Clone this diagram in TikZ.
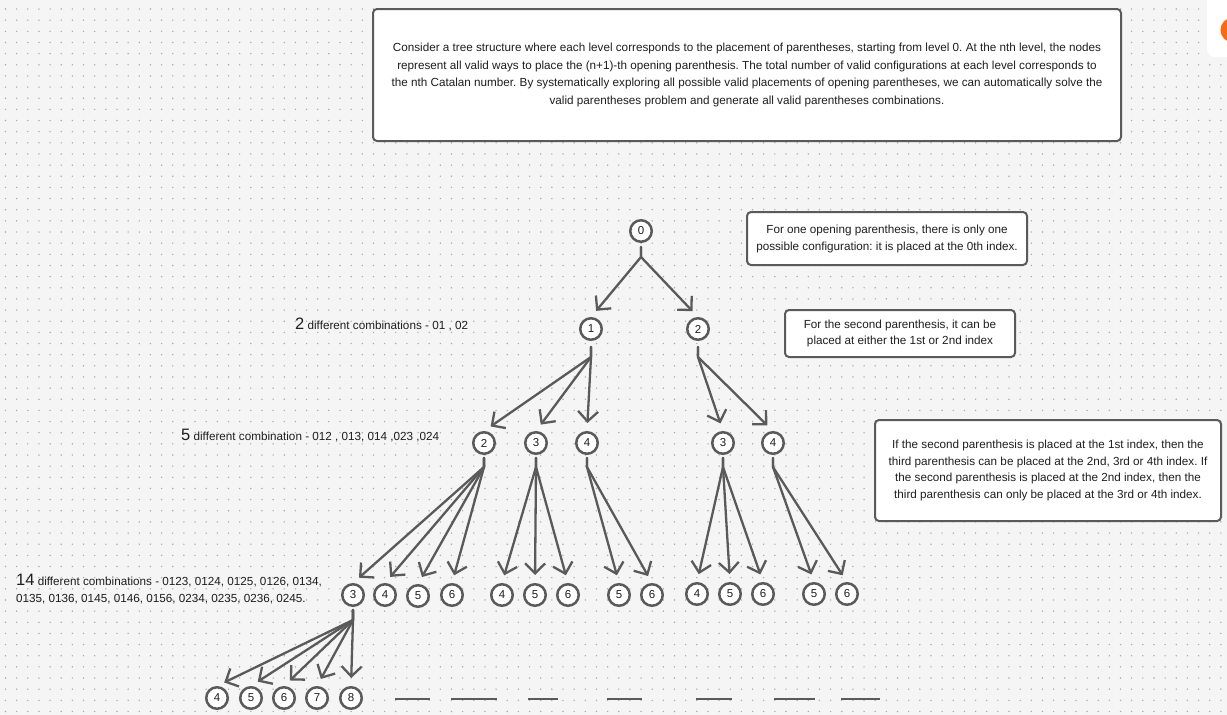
\documentclass[tikz,border=0pt]{standalone}
\usepackage{fontspec}
\setmainfont{Liberation Sans}
\frenchspacing
\usetikzlibrary{arrows.meta,shapes.geometric}
\definecolor{bg}{HTML}{F5F5F5}
\definecolor{ln}{HTML}{5A5A5A}
\definecolor{dotc}{HTML}{ACACAC}
\definecolor{txt}{HTML}{1E1E1E}
\definecolor{org}{HTML}{F76B15}
\begin{document}
\begin{tikzpicture}[x=1pt,y=-1pt,
  nd/.style={circle, draw=ln, line width=2.5pt, fill=white, minimum size=21.5pt, inner sep=0pt, font=\fontsize{11.5}{12}\selectfont, text=txt},
  arr/.style={draw=ln, line width=2.3pt, -{Straight Barb[length=10pt,width=20pt]}, shorten >=8pt, line cap=round, line join=round},
  box/.style={draw=ln, line width=2pt, rounded corners=4pt, fill=white, align=center, text=txt, inner sep=0pt},
  lab/.style={anchor=west, inner sep=0pt, text=txt, font=\fontsize{11.7}{17}\selectfont},
  dash line/.style={draw=ln, line width=2.3pt},
  dotrow/.style={draw=dotc, line width=1.6pt, line cap=round, dash pattern=on 0pt off 11.15pt},
]
\useasboundingbox (0,0) rectangle (1227,715);
\clip (0,0) rectangle (1227,715);
\fill[bg] (0,0) rectangle (1227,715);
\foreach \j in {0,...,64} {
  \draw[dotrow] (5.5, 9+11.15*\j) -- (1235, 9+11.15*\j);
}
% top-right panel
\fill[white, rounded corners=8pt] (1207,-12) rectangle (1245,57);
\fill[org] (1233,30) circle (12.5);

% text boxes
\node[box, minimum width=748pt, minimum height=132pt, font=\fontsize{11.7}{17.5}\selectfont] (intro) at (747,75)
 {Consider a tree structure where each level corresponds to the placement of parentheses, starting from level 0. At the nth level, the nodes\\
  represent all valid ways to place the (n+1)-th opening parenthesis. The total number of valid configurations at each level corresponds to\\
  the nth Catalan number. By systematically exploring all possible valid placements of opening parentheses, we can automatically solve the\\
  valid parentheses problem and generate all valid parentheses combinations.};
\node[box, minimum width=280pt, minimum height=53pt, font=\fontsize{11.7}{17}\selectfont] (note1) at (887,238.5)
 {For one opening parenthesis, there is only one\\possible configuration: it is placed at the 0th index.};
\node[box, minimum width=230pt, minimum height=47pt, font=\fontsize{11.7}{16.5}\selectfont] (note2) at (900,333.5)
 {For the second parenthesis, it can be\\placed at either the 1st or 2nd index};
\node[box, minimum width=346pt, minimum height=101pt, font=\fontsize{11.7}{16.5}\selectfont] (note3) at (1048,470.5)
 {If the second parenthesis is placed at the 1st index, then the\\
  third parenthesis can be placed at the 2nd, 3rd or 4th index. If\\
  the second parenthesis is placed at the 2nd index, then the\\
  third parenthesis can only be placed at the 3rd or 4th index.};

% level labels
\node[lab] (lab1) at (295,324) {{\fontsize{16.5}{16}\selectfont 2} different combinations - 01 , 02};
\node[lab] (lab2) at (181,436) {{\fontsize{16.5}{16}\selectfont 5} different combination - 012 , 013, 014 ,023 ,024};
\node[lab, anchor=north west, align=left] (lab3) at (16,574)
 {{\fontsize{16.5}{16}\selectfont 14} different combinations - 0123, 0124, 0125, 0126, 0134,\\
  0135, 0136, 0145, 0146, 0156, 0234, 0235, 0236, 0245.};

% tree nodes
\node[nd] (n0) at (641,231) {0};
\node[nd] (a1) at (591,329) {1};
\node[nd] (a2) at (698,329) {2};
\node[nd] (b1) at (484,443) {2};
\node[nd] (b2) at (536,443) {3};
\node[nd] (b3) at (587,443) {4};
\node[nd] (b4) at (723,443) {3};
\node[nd] (b5) at (773,443) {4};
\node[nd] (c1) at (353,595) {3};
\node[nd] (c2) at (385,595) {4};
\node[nd] (c3) at (418,596) {5};
\node[nd] (c4) at (452,595) {6};
\node[nd] (c5) at (502,595) {4};
\node[nd] (c6) at (535,595) {5};
\node[nd] (c7) at (568,595) {6};
\node[nd] (c8) at (619,595) {5};
\node[nd] (c9) at (652,595) {6};
\node[nd] (c10) at (697,594) {4};
\node[nd] (c11) at (730,594) {5};
\node[nd] (c12) at (763,594) {6};
\node[nd] (c13) at (814,594) {5};
\node[nd] (c14) at (847,594) {6};
\node[nd] (d1) at (217,698) {4};
\node[nd] (d2) at (251,698) {5};
\node[nd] (d3) at (284,698) {6};
\node[nd] (d4) at (317,698) {7};
\node[nd] (d5) at (351,698) {8};

% connectors
\foreach \c in {a1,a2} \draw[arr] ([yshift=-4pt]n0.south) -- ([yshift=-14pt]n0.south) -- (\c.north);
\foreach \c in {b1,b2,b3} \draw[arr] ([yshift=-6pt]a1.south) -- ([yshift=-16pt]a1.south) -- (\c.north);
\foreach \c in {b4,b5} \draw[arr] ([yshift=-6pt]a2.south) -- ([yshift=-16pt]a2.south) -- (\c.north);
\foreach \c in {c1,c2,c3,c4} \draw[arr] ([yshift=-3pt]b1.south) -- ([yshift=-12pt]b1.south) -- (\c.north);
\foreach \c in {c5,c6,c7} \draw[arr] ([yshift=-3pt]b2.south) -- ([yshift=-12pt]b2.south) -- (\c.north);
\foreach \c in {c8,c9} \draw[arr] ([yshift=-3pt]b3.south) -- ([yshift=-12pt]b3.south) -- (\c.north);
\foreach \c in {c10,c11,c12} \draw[arr] ([yshift=-3pt]b4.south) -- ([yshift=-12pt]b4.south) -- (\c.north);
\foreach \c in {c13,c14} \draw[arr] ([yshift=-3pt]b5.south) -- ([yshift=-12pt]b5.south) -- (\c.north);
\foreach \c in {d1,d2,d3,d4,d5} \draw[arr] ([yshift=-3pt]c1.south) -- ([yshift=-13pt]c1.south) -- (\c.north);

% trailing dashes
\foreach \xa/\xb in {395/430,451/497,528/558,607/642,696/732,774/815,841/880}
  \draw[dash line] (\xa,699) -- (\xb,699);
\end{tikzpicture}
\end{document}
